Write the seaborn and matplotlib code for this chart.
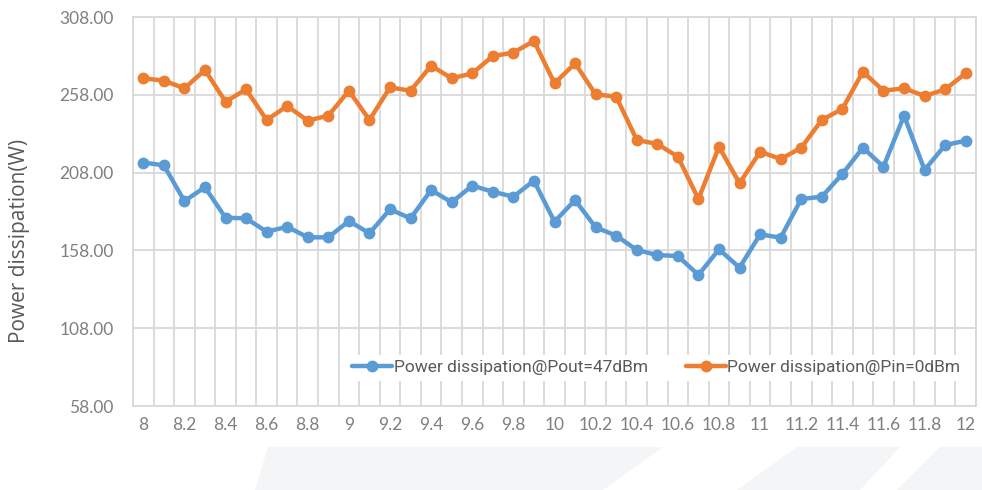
import numpy as np
import pandas as pd
import matplotlib
matplotlib.use('Agg')
import matplotlib.pyplot as plt
import seaborn as sns
from matplotlib.patches import Polygon

# 데이터
freq = [8.0, 8.1, 8.2, 8.3, 8.4, 8.5, 8.6, 8.7, 8.8, 8.9,
        9.0, 9.1, 9.2, 9.3, 9.4, 9.5, 9.6, 9.7, 9.8, 9.9,
        10.0, 10.1, 10.2, 10.3, 10.4, 10.5, 10.6, 10.7, 10.8, 10.9,
        11.0, 11.1, 11.2, 11.3, 11.4, 11.5, 11.6, 11.7, 11.8, 11.9, 12.0]

pd_pout47 = [214.4, 212.7, 189.7, 198.6, 179.0, 178.6, 170.0, 173.2, 166.4, 166.4,
             176.9, 169.0, 184.4, 178.6, 196.8, 188.9, 199.6, 195.7, 192.5, 202.8,
             176.4, 190.4, 172.8, 167.5, 158.3, 155.0, 154.4, 142.2, 158.7, 146.9,
             168.3, 166.2, 191.0, 192.5, 207.1, 224.0, 211.8, 244.6, 209.7, 225.7, 228.5]

pd_pin0 = [268.6, 267.1, 262.2, 273.9, 253.6, 261.5, 241.8, 250.8, 241.4, 244.6,
           260.6, 241.8, 262.8, 260.6, 276.7, 268.6, 271.8, 282.9, 285.1, 292.6,
           265.4, 278.2, 258.3, 256.8, 229.0, 226.4, 218.2, 191.0, 224.6, 201.1,
           221.4, 216.7, 224.0, 241.8, 248.9, 272.8, 260.6, 262.2, 257.2, 261.5, 271.8]

labels = ['Power dissipation@Pout=47dBm', 'Power dissipation@Pin=0dBm']
colors = ['#5B9BD5', '#ED7D31']
y_ticks = [58, 108, 158, 208, 258, 308]
x_ticks = [8.0, 8.2, 8.4, 8.6, 8.8, 9.0, 9.2, 9.4, 9.6, 9.8, 10.0,
           10.2, 10.4, 10.6, 10.8, 11.0, 11.2, 11.4, 11.6, 11.8, 12.0]

df = pd.DataFrame({
    'freq': freq * 2,
    'value': pd_pout47 + pd_pin0,
    'series': [labels[0]] * len(freq) + [labels[1]] * len(freq),
})

sns.set_style('white')
plt.rcParams['font.family'] = ['Lato', 'DejaVu Sans']

fig = plt.figure(figsize=(9.82, 4.90), dpi=100)

# 배경 워터마크 (옅은 회색 도형)
W, H = 982, 490
def px(pts):
    return [(x / W, 1 - y / H) for x, y in pts]
for pts in [[(268, 447), (663, 447), (603, 490), (255, 490)],
            [(797, 447), (900, 447), (860, 490), (737, 490)],
            [(940, 447), (982, 447), (982, 490), (897, 490)]]:
    fig.patches.append(Polygon(px(pts), closed=True, transform=fig.transFigure,
                               facecolor='#f4f5f7', edgecolor='none', zorder=0))

ax = fig.add_axes([133 / W, 1 - 406 / H, (976 - 133) / W, (406 - 17) / H])
ax.set_facecolor('none')

sns.lineplot(data=df, x='freq', y='value', hue='series', palette=colors,
             marker='o', markersize=8.5, markeredgewidth=0, linewidth=3.2,
             ax=ax, legend=True)

ax.set_xlim(7.95, 12.05)
ax.set_ylim(58, 308)
ax.set_yticks(y_ticks)
ax.set_yticklabels([f'{v:.2f}' for v in y_ticks])
ax.set_xticks(x_ticks)
ax.set_xticklabels([f'{v:g}' for v in x_ticks])
ax.set_xticks([f - 0.05 for f in freq] + [12.05], minor=True)

ax.grid(False)
ax.grid(True, axis='y', which='major', color='#d9d9d9', linewidth=1.3)
ax.grid(True, axis='x', which='minor', color='#d9d9d9', linewidth=1.3)
ax.tick_params(axis='both', which='both', length=0)
ax.tick_params(axis='y', labelsize=12.5, labelcolor='#7f7f7f', pad=14)
ax.tick_params(axis='x', labelsize=12.5, labelcolor='#7f7f7f', pad=8)
for s in ax.spines.values():
    s.set_color('#d9d9d9')
    s.set_linewidth(1.3)

ax.set_xlabel('Frequency(GHz)', fontsize=14.5, color='#595959',
              family=['Open Sans', 'DejaVu Sans'])
ax.set_ylabel('Power dissipation(W)', fontsize=15, color='#595959',
              family=['Open Sans', 'DejaVu Sans'])
ax.xaxis.set_label_coords(0.445, -0.165)
ax.yaxis.set_label_coords(-0.122, 0.425)

handles, lbls = ax.get_legend_handles_labels()
leg = ax.legend(handles, lbls, ncol=2, loc='center right',
                bbox_to_anchor=(0.998, 0.098), frameon=True, facecolor='white',
                edgecolor='none', framealpha=1, handlelength=2.3,
                columnspacing=2.2, handletextpad=0.1, borderpad=0.3,
                prop={'family': ['Roboto', 'DejaVu Sans'], 'size': 12.5})
for t in leg.get_texts():
    t.set_color('#595959')

fig.savefig('out.png', dpi=100)
